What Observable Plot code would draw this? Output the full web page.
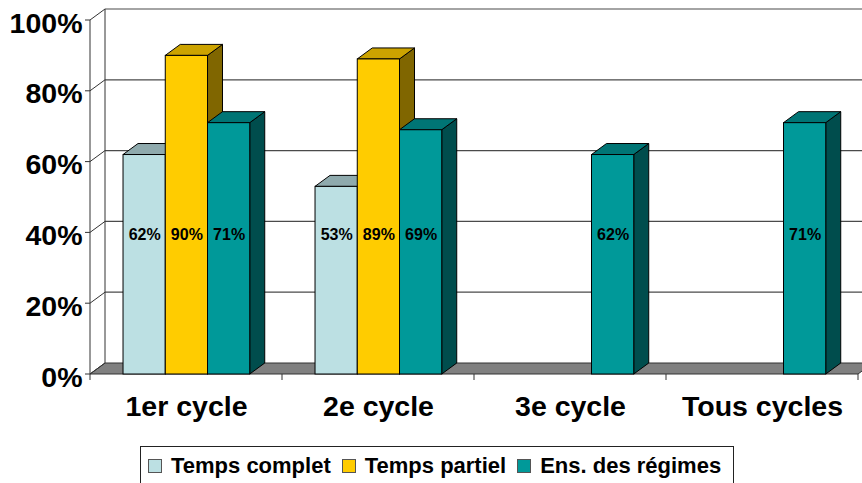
<!DOCTYPE html>
<html>
<head>
<meta charset="utf-8">
<script src="https://cdn.jsdelivr.net/npm/d3@7"></script>
<script src="https://cdn.jsdelivr.net/npm/@observablehq/plot@0.6"></script>
<style>
  html, body { margin: 0; padding: 0; background: #fff; }
  body { width: 862px; height: 483px; overflow: hidden; font-family: "Liberation Sans", Arial, sans-serif; }
  #chart svg { display: block; }
  .legend {
    position: absolute; left: 140px; top: 446px; width: 594px; height: 40px;
    box-sizing: border-box; border: 1px solid #222; background: #fff;
    display: flex; align-items: center; padding-left: 7px;
    font: bold 22px "Liberation Sans", Arial, sans-serif; color: #000;
  }
  .legend .item { display: flex; align-items: center; margin-right: 11px; }
  .legend .sw { width: 12px; height: 12px; border: 1px solid #555; margin-right: 9px; }
</style>
</head>
<body>
<div id="chart"></div>
<script>
// ---- data ----
const categories = ["1er cycle", "2e cycle", "3e cycle", "Tous cycles"];
const series = ["Temps complet", "Temps partiel", "Ens. des régimes"];
const tempsComplet = [0.62, 0.53, null, null];
const tempsPartiel = [0.90, 0.89, null, null];
const ensRegimes  = [0.71, 0.69, 0.62, 0.71];
const yTicks = [0, 0.2, 0.4, 0.6, 0.8, 1];
const frontColors = ["#BCE0E3", "#FFCC00", "#009999"];
const topColors   = ["#8FAAAD", "#CCA300", "#007575"];
const sideColors  = ["#5E7072", "#806600", "#004D4D"];

// ---- layout constants (style, not data) ----
const W = 862, H = 440;
const DEPTH = {dx: 15, dy: -11};
const GROUP_OFFSET = 0.172, SLOT = 0.22; // in category units
const LABEL_LEVEL = 0.395;

const valuesBySeries = [tempsComplet, tempsPartiel, ensRegimes];
const rows = [];
categories.forEach((c, i) => {
  valuesBySeries.forEach((vals, j) => {
    const v = vals[i];
    if (v == null) return;
    rows.push({category: c, series: series[j], s: j, value: v,
               x1: i + GROUP_OFFSET + j * SLOT, x2: i + GROUP_OFFSET + (j + 1) * SLOT});
  });
});
const catRows = categories.map((c, i) => ({category: c, mid: i + 0.5}));
const bounds = d3.range(categories.length + 1);

const poly = (g, pts, fill, stroke = "#000", sw = 1) =>
  g.append("path").attr("d", "M" + pts.map(p => p.join(",")).join("L") + "Z")
   .attr("fill", fill).attr("stroke", stroke).attr("stroke-width", sw).attr("stroke-linejoin", "round");

// walls, floor, gridlines
function frame3d(index, {x, y}) {
  const g = d3.create("svg:g");
  const {dx, dy} = DEPTH;
  const x0 = x(0), xN = x(categories.length), y0 = y(0), y1 = y(1);
  // floor
  poly(g, [[x0, y0], [xN, y0], [xN + dx, y0 + dy], [x0 + dx, y0 + dy]], "#808080", "#333", 1);
  // back wall gridlines
  yTicks.filter(t => t > 0).forEach(t => {
    g.append("line").attr("x1", x0 + dx).attr("x2", xN + dx)
      .attr("y1", y(t) + dy).attr("y2", y(t) + dy).attr("stroke", "#4a4a4a").attr("stroke-width", 1.2);
  });
  // left wall diagonals
  yTicks.forEach(t => {
    g.append("line").attr("x1", x0).attr("y1", y(t)).attr("x2", x0 + dx).attr("y2", y(t) + dy)
      .attr("stroke", "#333").attr("stroke-width", 1);
    // tick marks
    g.append("line").attr("x1", x0 - 5).attr("x2", x0).attr("y1", y(t)).attr("y2", y(t))
      .attr("stroke", "#333");
  });
  // back wall left edge and front axis
  g.append("line").attr("x1", x0 + dx).attr("x2", x0 + dx).attr("y1", y0 + dy).attr("y2", y1 + dy).attr("stroke", "#333");
  g.append("line").attr("x1", x0).attr("x2", x0).attr("y1", y0).attr("y2", y1).attr("stroke", "#333");
  // x ticks
  bounds.forEach(b => {
    g.append("line").attr("x1", x(b)).attr("x2", x(b)).attr("y1", y0).attr("y2", y0 + 6).attr("stroke", "#333");
  });
  return g.node();
}

// top and side faces of the bars
function faces3d(index, {x, y}) {
  const g = d3.create("svg:g");
  const {dx, dy} = DEPTH;
  rows.forEach(r => {
    const a = x(r.x1), b = x(r.x2), y0 = y(0), yv = y(r.value);
    poly(g, [[b, yv], [b + dx, yv + dy], [b + dx, y0 + dy], [b, y0]], sideColors[r.s]);
    poly(g, [[a, yv], [b, yv], [b + dx, yv + dy], [a + dx, yv + dy]], topColors[r.s]);
  });
  return g.node();
}

const chart = Plot.plot({
  width: W, height: H,
  marginLeft: 90, marginRight: 4, marginTop: 20, marginBottom: H - 374,
  style: {fontFamily: "'Liberation Sans', Arial, sans-serif", background: "#fff", overflow: "hidden"},
  x: {type: "linear", domain: [0, categories.length], axis: null},
  y: {domain: [0, 1], axis: null},
  marks: [
    frame3d,
    faces3d,
    Plot.rect(rows, {x1: "x1", x2: "x2", y1: 0, y2: "value",
      fill: d => frontColors[d.s], stroke: "#000", strokeWidth: 1}),
    Plot.text(rows, {x: d => (d.x1 + d.x2) / 2, y: () => LABEL_LEVEL,
      text: d => d3.format(".0%")(d.value), fontSize: 16, fontWeight: "bold", fill: "#000"}),
    Plot.text(yTicks, {x: 0, y: d => d, text: d => d3.format(".0%")(d),
      textAnchor: "end", dx: -8, dy: 3, fontSize: 28.5, fontWeight: "bold", fill: "#000"}),
    Plot.text(catRows, {x: "mid", y: 0, text: "category", dy: 32,
      fontSize: 28.5, fontWeight: "bold", fill: "#000"})
  ]
});
document.getElementById("chart").appendChild(chart);

// legend
const legend = document.createElement("div");
legend.className = "legend";
series.forEach((s, j) => {
  const item = document.createElement("div");
  item.className = "item";
  const sw = document.createElement("span");
  sw.className = "sw";
  sw.style.background = frontColors[j];
  const t = document.createElement("span");
  t.textContent = s;
  item.appendChild(sw); item.appendChild(t);
  legend.appendChild(item);
});
document.body.appendChild(legend);
</script>
</body>
</html>
